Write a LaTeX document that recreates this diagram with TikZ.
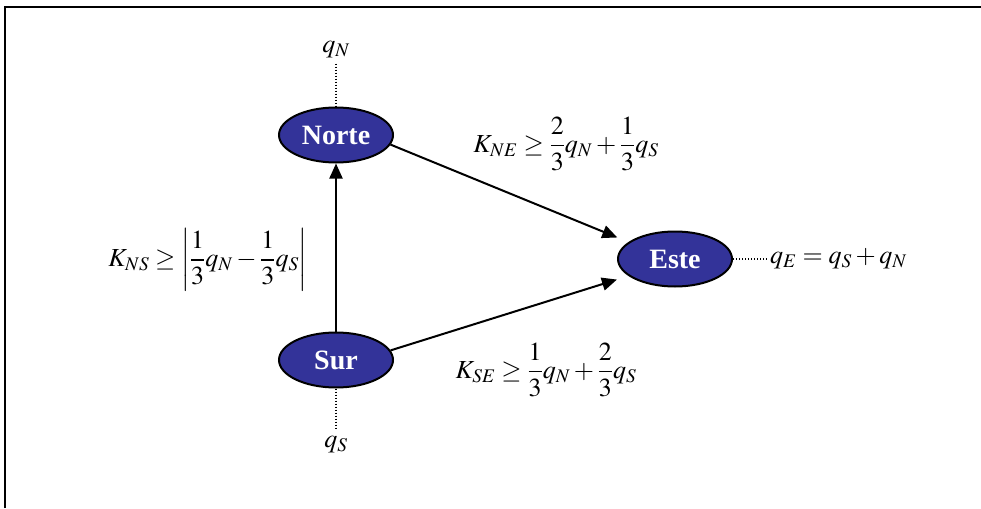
\documentclass[tikz,border=0pt]{standalone}
\usepackage{amsmath,amssymb}
\usepackage{mathptmx}
\usepackage{fontspec}
\setmainfont{Liberation Serif}
\usepackage{xcolor}
\usepackage{tikz}
\usetikzlibrary{arrows.meta,positioning,shapes.geometric}
\definecolor{zonec}{HTML}{333399}
\tikzset{
  zona/.style={ellipse,draw=black,line width=2pt,fill=zonec,text=white,font=\fontsize{28}{32}\selectfont\bfseries,minimum width=114pt,minimum height=55pt,inner sep=0pt},
  ar/.style={-{Triangle[length=15pt,width=13pt]},line width=2pt},
  dl/.style={dash pattern=on 1.2pt off 1.8pt,line width=1.3pt},
  eq/.style={font=\fontsize{26}{30}\selectfont,inner sep=0pt}
}
\begin{document}
\begin{tikzpicture}[x=1pt,y=-1pt]
\useasboundingbox (0,0) rectangle (981,508);
\draw[line width=2pt] (5,508)--(5,7)--(981,7);
\node[zona] (norte) at (336,135) {Norte};
\node[zona] (sur) at (336,360) {Sur};
\node[zona] (este) at (675,259) {Este};
\node[eq] (qn) at (336,50) {$q_N$};
\node[eq] (qs) at (336,445) {$q_S$};
\node[eq,anchor=west] (qe) at (770,259) {$q_E = q_S + q_N$};
\draw[dl] ([yshift=-5pt]qn.south) -- (norte.north);
\draw[dl] (sur.south) -- ([yshift=8pt]qs.north);
\draw[dl] (este.east) -- ([xshift=-3pt]qe.west);
\draw[ar] (sur.north) -- (norte.south);
\draw[ar,shorten >=12pt] (norte.-10) -- (este.160);
\draw[ar,shorten >=12pt] (sur.10) -- (este.-160);
\node[eq] (kne) at (566,144) {$K_{NE} \ge \dfrac{2}{3}q_N + \dfrac{1}{3}q_S$};
\node[eq] (kse) at (546,370) {$K_{SE} \ge \dfrac{1}{3}q_N + \dfrac{2}{3}q_S$};
\node[eq] (kns) at (208,260) {$K_{NS} \ge \left|\dfrac{1}{3}q_N - \dfrac{1}{3}q_S\right|$};
\end{tikzpicture}
\end{document}
